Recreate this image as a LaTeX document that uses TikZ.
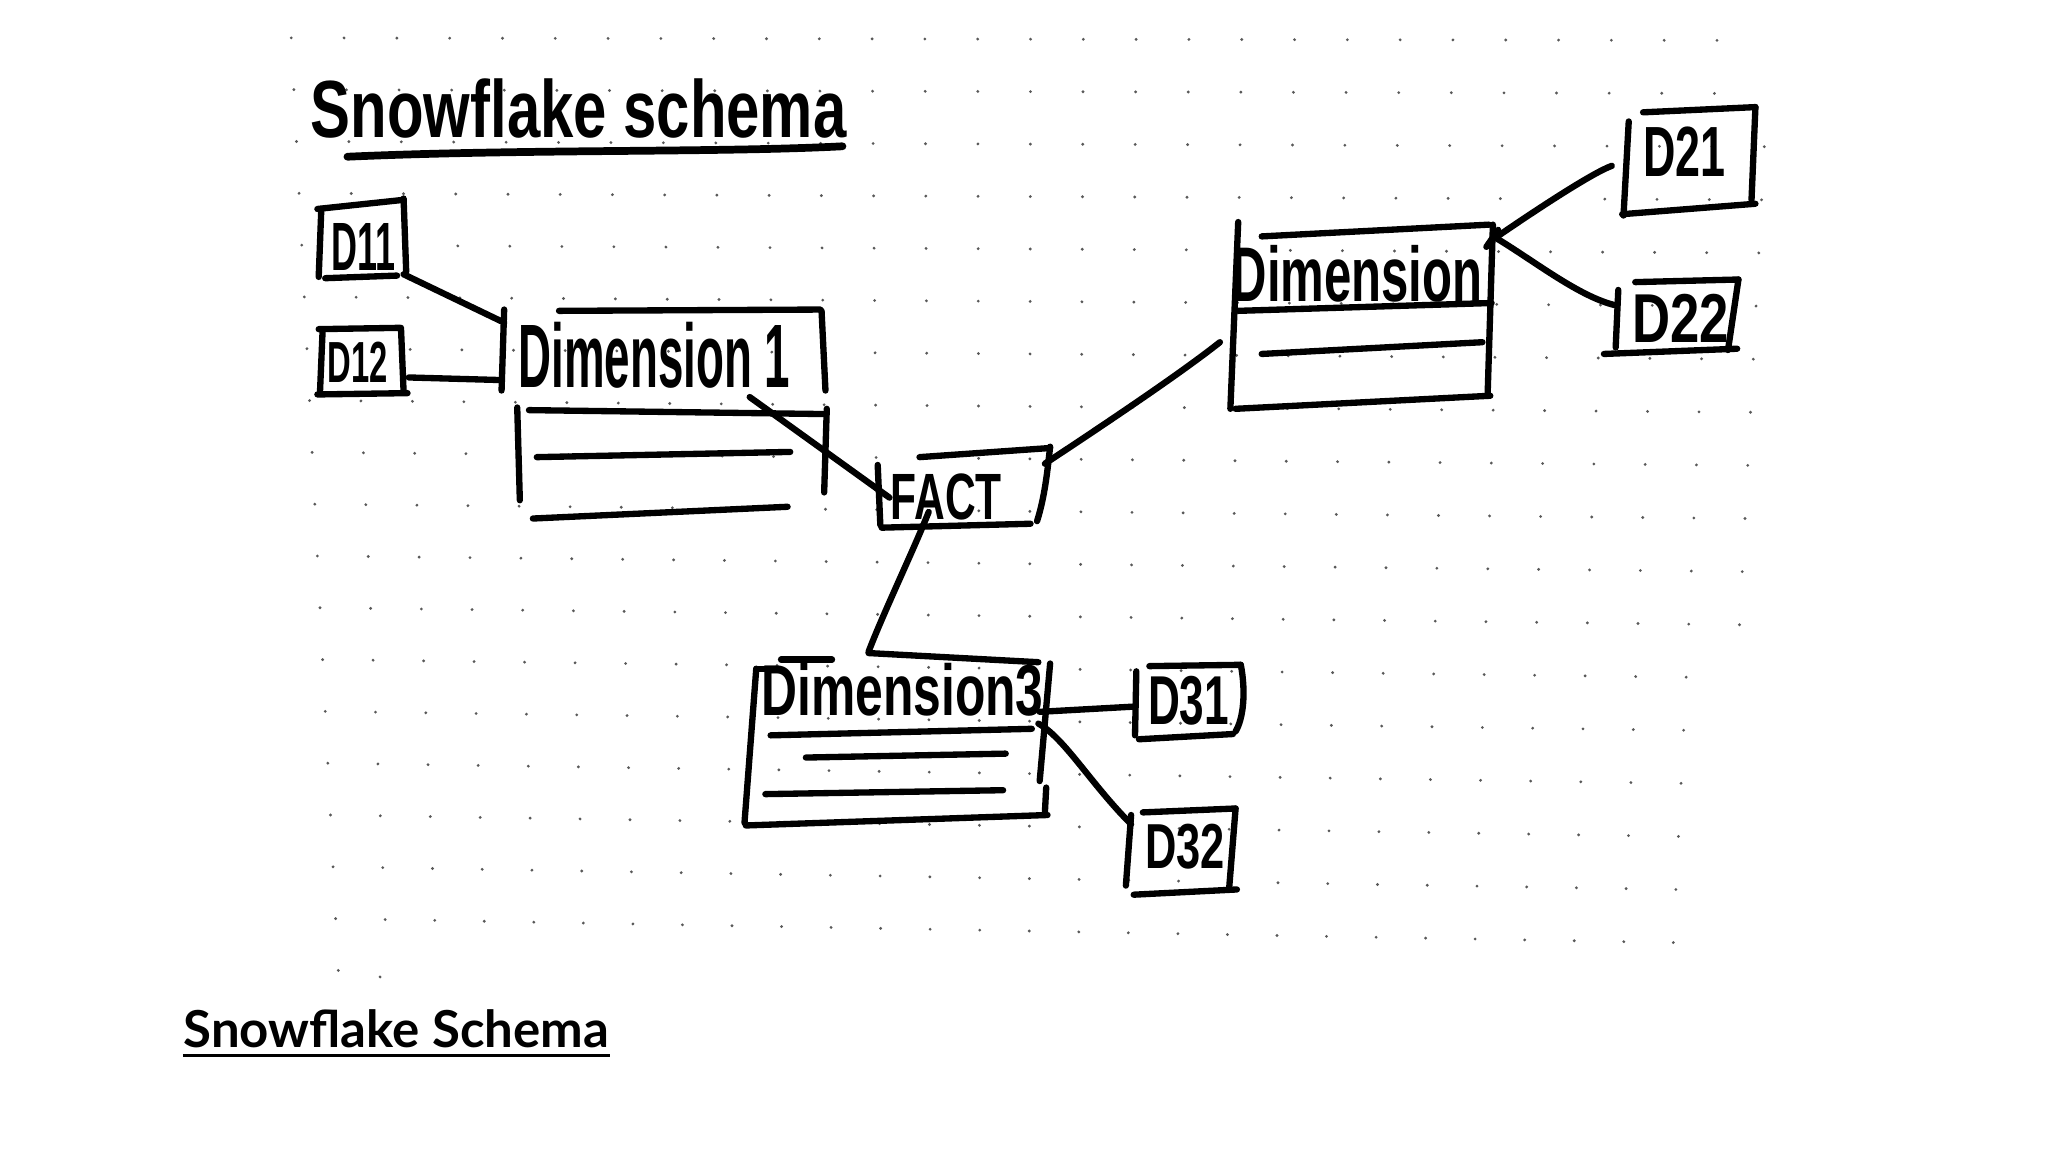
\documentclass[tikz,border=0pt]{standalone}
\usepackage{fontspec}
\usepackage{graphicx}
\setmainfont{Liberation Sans}
\newfontfamily\capfont{Lato}
\newlength\pxu
\setlength\pxu{0.0130612cm}
\newcommand\hw[3]{\resizebox{#1\pxu}{#2\pxu}{\bfseries #3}}
\tikzset{
  pen/.style={draw=black, line width=1.8pt, line cap=round, line join=round},
  lbl/.style={anchor=base west, inner sep=0pt, outer sep=0pt},
  griddot/.style={fill=black!65, draw=none},
  ul/.style={draw=black, line width=1pt, line cap=butt}
}
\begin{document}
\begin{tikzpicture}[x=0.0130612cm, y=-0.0130612cm]
\useasboundingbox (0,0) rectangle (1568,882);
\fill[white] (0,0) rectangle (1568,882);
% dot grid
\foreach \r in {0,...,17}{
  \foreach \c in {0,...,28}{
    \pgfmathsetmacro\u{\c/28}
    \pgfmathsetmacro\v{\r/18}
    \pgfmathsetmacro\gx{(1-\u)*(1-\v)*223+\u*(1-\v)*1355+(1-\u)*\v*259+\u*\v*1317}
    \pgfmathsetmacro\gy{(1-\u)*(1-\v)*29+\u*(1-\v)*31+(1-\u)*\v*743+\u*\v*763}
    \pgfmathtruncatemacro\dskip{(\c==28)&&((\r<2)||(\r>11))}
    \ifnum\dskip=0 \fill[griddot] (\gx,\gy) circle[radius=1.2]; \fi
  }
}
\fill[griddot] (259,743) circle[radius=1.2];
\fill[griddot] (291,748) circle[radius=1.2];

% title
\node[lbl] (title) at (238,105) {\hw{410}{45}{Snowflake schema}};
\draw[pen, line width=2.2pt] (266,120) .. controls (400,114) and (550,117) .. (645,112);

% D11
\draw[pen] (243,160) -- (309,153);
\draw[pen] (246,160) -- (244,212);
\draw[pen] (309,152) -- (311,208);
\draw[pen] (249,213) -- (304,211);
\node[lbl] (d11) at (254,207) {\hw{49}{36}{D11}};

% D12
\draw[pen] (244,252) -- (306,251);
\draw[pen] (247,253) -- (245,300);
\draw[pen] (307,251) -- (309,300);
\draw[pen] (243,302) -- (312,301);
\node[lbl] (d12) at (251,293) {\hw{46}{31}{D12}};

% Dimension 1
\draw[pen] (386,237) -- (384,299);
\draw[pen] (428,238) -- (628,237);
\draw[pen] (629,238) -- (632,299);
\node[lbl] (dim1) at (397,297) {\hw{208}{50}{Dimension 1}};
\draw[pen] (396,312) -- (398,383);
\draw[pen] (405,314) -- (630,317);
\draw[pen] (633,313) -- (631,377);
\draw[pen] (411,350) -- (605,346);
\draw[pen] (408,397) -- (603,388);

\coordinate (d11e) at (309,210);
\coordinate (dim1a) at (386,247);
\coordinate (d12e) at (313,289);
\coordinate (dim1b) at (384,291);
\draw[pen] (d11e) -- (dim1a);
\draw[pen] (d12e) -- (dim1b);

% FACT
\draw[pen] (672,356) -- (674,402);
\draw[pen] (704,350) -- (804,343);
\draw[pen] (804,342) .. controls (802,360) and (800,380) .. (794,399);
\draw[pen] (675,404) -- (789,401);
\node[lbl] (fact) at (682,398) {\hw{85}{35}{FACT}};

\coordinate (dim1s) at (574,304);
\coordinate (factw) at (681,381);
\draw[pen] (dim1s) -- (factw);

% Dimension (2)
\draw[pen] (948,170) -- (942,313);
\draw[pen] (966,181) -- (1140,172);
\draw[pen] (1143,172) -- (1139,301);
\node[lbl] (dim2) at (943,231) {\hw{192}{43}{Dimension}};
\draw[pen] (948,238) -- (1142,232);
\draw[pen] (966,271) -- (1135,262);
\draw[pen] (946,313) -- (1141,303);

\coordinate (factne) at (800,355);
\coordinate (dim2w) at (934,262);
\draw[pen] (factne) .. controls (850,322) and (905,285) .. (dim2w);

% D21
\draw[pen] (1247,93) -- (1243,165);
\draw[pen] (1258,86) -- (1344,82);
\draw[pen] (1344,82) -- (1341,153);
\draw[pen] (1242,164) -- (1344,156);
\node[lbl] (d21) at (1258,135) {\hw{63}{38}{D21}};

% D22
\draw[pen] (1239,222) -- (1237,266);
\draw[pen] (1252,216) -- (1331,214);
\draw[pen] (1331,214) -- (1323,268);
\draw[pen] (1228,271) -- (1330,267);
\node[lbl] (d22) at (1250,262) {\hw{74}{37}{D22}};

\coordinate (dim2ne) at (1145,182);
\coordinate (d21w) at (1234,127);
\coordinate (d22w) at (1238,234);
\draw[pen] (dim2ne) .. controls (1180,158) and (1220,132) .. (d21w);
\draw[pen] (dim2ne) .. controls (1175,200) and (1210,228) .. (d22w);
\draw[pen] (1138,189) -- (1147,176);

% Dimension3
\draw[pen] (579,512) -- (586,512);
\draw[pen] (598,505) -- (637,505);
\draw[pen] (579,512) -- (570,630);
\draw[pen] (665,500) -- (795,507);
\draw[pen] (804,508) -- (796,598);
\draw[pen] (801,603) -- (800,622);
\draw[pen] (571,632) -- (802,624);
\node[lbl] (dim3) at (583,548) {\hw{216}{40}{Dimension3}};
\draw[pen] (590,563) -- (790,558);
\draw[pen] (617,580) -- (770,577);
\draw[pen] (586,608) -- (768,605);

\coordinate (facts) at (711,392);
\coordinate (dim3n) at (665,499);
\draw[pen] (facts) .. controls (700,420) and (676,470) .. (dim3n);

% D31
\draw[pen] (870,514) -- (869,563);
\draw[pen] (880,510) -- (950,509);
\draw[pen] (950,509) .. controls (954,530) and (952,550) .. (946,560);
\draw[pen] (872,566) -- (944,562);
\node[lbl] (d31) at (879,555) {\hw{62}{37}{D31}};

% D32
\draw[pen] (866,624) -- (862,678);
\draw[pen] (875,622) -- (946,619);
\draw[pen] (946,619) -- (941,681);
\draw[pen] (868,685) -- (947,681);
\node[lbl] (d32) at (877,665) {\hw{61}{34}{D32}};

\coordinate (dim3e) at (796,545);
\coordinate (d31w) at (868,541);
\coordinate (dim3se) at (795,554);
\coordinate (d32w) at (866,631);
\draw[pen] (dim3e) -- (d31w);
\draw[pen] (dim3se) .. controls (815,565) and (835,600) .. (d32w);

% caption
\node[anchor=base west, inner sep=0pt] (cap) at (140,802)
  {\capfont\bfseries\fontsize{14.5pt}{17pt}\selectfont Snowflake Schema};
\draw[ul] ([yshift=-0.8mm]cap.base west) -- ([yshift=-0.8mm]cap.base east);
\end{tikzpicture}
\end{document}
